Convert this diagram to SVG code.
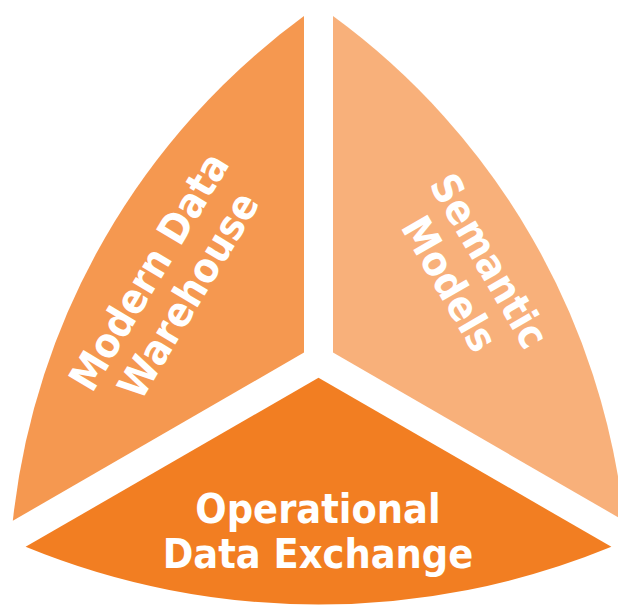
<svg xmlns="http://www.w3.org/2000/svg" width="618" height="606" viewBox="0 0 618 606">
<style>
.lbl{font-family:"DejaVu Sans Condensed","DejaVu Sans","Verdana",sans-serif;font-stretch:condensed;font-weight:bold;font-size:41px;fill:#ffffff;text-anchor:middle}
</style>
<rect width="618" height="606" fill="#ffffff"/>
<g id="connectors"></g>
<g id="node-modern-data-warehouse">
<path d="M304,16.1 L304,352.6 L12.83,520.74 A720,720 0 0 1 304,16.1 Z" fill="#F59850"/>
<g transform="translate(168,283) rotate(-59)">
<text class="lbl" x="0" y="-8">Modern Data</text>
<text class="lbl" x="0" y="38">Warehouse</text>
</g>
</g>
<g id="node-semantic-models">
<path d="M333,16.1 A720,720 0 0 1 624.17,520.74 L333,352.6 Z" fill="#F8B07A"/>
<g transform="translate(470,272) rotate(60)">
<text class="lbl" x="0" y="-8">Semantic</text>
<text class="lbl" x="0" y="38">Models</text>
</g>
</g>
<g id="node-operational-data-exchange">
<path d="M318.5,377.74 L25.6,546.8 A771.8,771.8 0 0 0 611.4,546.8 Z" fill="#F27E22"/>
<text class="lbl" x="318" y="523">Operational</text>
<text class="lbl" x="318" y="568">Data Exchange</text>
</g>
</svg>
